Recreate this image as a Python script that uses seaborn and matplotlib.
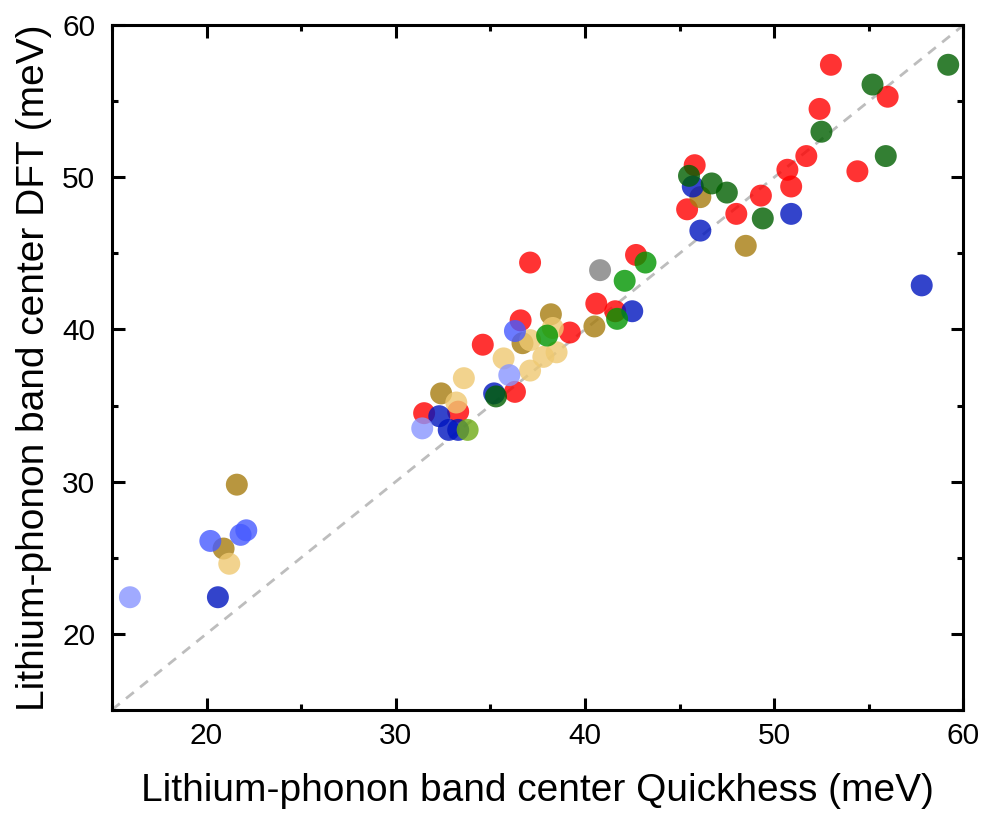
import pandas as pd
import seaborn as sns
import matplotlib.pyplot as plt
from matplotlib.ticker import MultipleLocator

## points, one pair of lists per colour group
red_x = [53.0, 56.0, 52.4, 51.7, 54.4, 50.7, 50.9, 49.3, 48.0, 45.8, 45.4,
         42.7, 37.1, 40.6, 41.6, 39.2, 36.6, 34.6, 36.3, 33.3, 31.5]
red_y = [57.4, 55.3, 54.5, 51.4, 50.4, 50.5, 49.4, 48.8, 47.6, 50.8, 47.9,
         44.9, 44.4, 41.7, 41.2, 39.8, 40.6, 39.0, 35.9, 34.6, 34.5]

gold_x = [46.1, 48.5, 40.5, 38.2, 36.7, 32.4, 21.6, 20.9]
gold_y = [48.7, 45.5, 40.2, 41.0, 39.1, 35.8, 29.8, 25.6]

wheat_x = [38.3, 38.5, 37.8, 37.1, 37.1, 35.7, 33.6, 33.2, 21.2]
wheat_y = [40.1, 38.5, 38.2, 37.3, 39.3, 38.1, 36.8, 35.2, 24.6]

blue_x = [57.8, 50.9, 45.7, 46.1, 42.5, 35.2, 32.3, 32.8, 33.3, 20.6]
blue_y = [42.9, 47.6, 49.4, 46.5, 41.2, 35.8, 34.3, 33.4, 33.4, 22.4]

ltblue_x = [36.3, 20.2, 21.8, 22.1]
ltblue_y = [39.9, 26.1, 26.5, 26.8]

paleblue_x = [36.0, 31.4, 15.95]
paleblue_y = [37.0, 33.5, 22.4]

green_x = [43.2, 42.1, 41.7, 38.0]
green_y = [44.4, 43.2, 40.7, 39.6]

dkgreen_x = [59.2, 55.2, 52.5, 55.9, 49.4, 47.5, 46.7, 45.5, 35.3]
dkgreen_y = [57.4, 56.1, 53.0, 51.4, 47.3, 49.0, 49.6, 50.1, 35.6]

gray_x = [40.8]
gray_y = [43.9]

olive_x = [33.8]
olive_y = [33.4]

groups = [
    ("red", red_x, red_y, "#ff0000"),
    ("gold", gold_x, gold_y, "#a67c0f"),
    ("wheat", wheat_x, wheat_y, "#efc972"),
    ("blue", blue_x, blue_y, "#0015bf"),
    ("ltblue", ltblue_x, ltblue_y, "#465aff"),
    ("paleblue", paleblue_x, paleblue_y, "#8895ff"),
    ("green", green_x, green_y, "#009500"),
    ("dkgreen", dkgreen_x, dkgreen_y, "#005f00"),
    ("gray", gray_x, gray_y, "#808080"),
    ("olive", olive_x, olive_y, "#6eaa15"),
]

df = pd.concat([pd.DataFrame({"quickhess": gx, "dft": gy, "group": name})
                for name, gx, gy, _ in groups], ignore_index=True)
palette = {name: c for name, _, _, c in groups}

sns.set_theme(style="ticks")
plt.rcParams['font.family'] = ['Liberation Sans', 'DejaVu Sans']
plt.rcParams['text.color'] = 'black'
plt.rcParams['axes.labelcolor'] = 'black'
plt.rcParams['xtick.color'] = 'black'
plt.rcParams['ytick.color'] = 'black'

fig, ax = plt.subplots(figsize=(9.82, 8.14), dpi=100)
fig.subplots_adjust(left=0.114, right=0.981, bottom=0.128, top=0.969)

## parity line
ax.plot([15, 60], [15, 60], ls=(0, (3.6, 2.9)), color="#bdbdbd", lw=2, zorder=1)

sns.scatterplot(data=df, x="quickhess", y="dft", hue="group", palette=palette,
                s=250, alpha=0.8, linewidth=0, legend=False, ax=ax, zorder=2)

ax.set_xlim(15, 60)
ax.set_ylim(15, 60)
ax.xaxis.set_minor_locator(MultipleLocator(5))
ax.yaxis.set_minor_locator(MultipleLocator(5))
ax.set_xticks([20, 30, 40, 50, 60])
ax.set_yticks([20, 30, 40, 50, 60])

for s in ax.spines.values():
    s.set_linewidth(2.2)
    s.set_color("black")
ax.tick_params(which="both", direction="in", top=True, right=True,
               width=2.2, color="black", labelcolor="black")
ax.tick_params(which="major", length=9, labelsize=21.5)
ax.tick_params(axis="x", which="major", pad=8.5)
ax.tick_params(axis="y", which="major", pad=12)
ax.tick_params(which="minor", length=4.5)

ax.set_xlabel("Lithium-phonon band center Quickhess (meV)", fontsize=28, labelpad=17)
ax.set_ylabel("Lithium-phonon band center DFT (meV)", fontsize=28, labelpad=7)

fig.savefig("out.png", dpi=100)
